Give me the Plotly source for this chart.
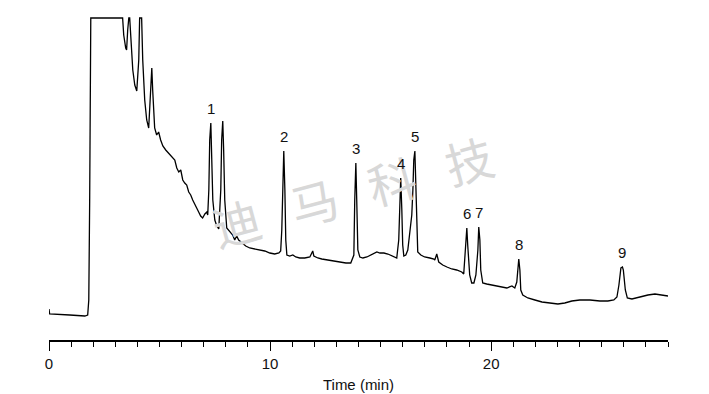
import plotly.graph_objects as go

# Chromatogram trace (time in min, detector signal in arbitrary units)
time_min = [
    0.00, 0.03, 0.94, 1.62, 1.75, 1.80, 1.84, 1.89, 3.33, 3.38, 3.47, 3.51, 3.56, 3.61, 3.65,
    3.70, 3.79, 3.88, 3.97, 4.06, 4.10, 4.19, 4.24, 4.33, 4.42, 4.51, 4.60, 4.65, 4.69, 4.78,
    4.87, 4.96, 5.05, 5.15, 5.28, 5.37, 5.46, 5.60, 5.69, 5.78, 5.87, 5.96, 6.05, 6.14, 6.23,
    6.32, 6.41, 6.50, 6.59, 6.68, 6.77, 6.86, 6.95, 7.05, 7.14, 7.18, 7.23, 7.27, 7.32, 7.36,
    7.41, 7.50, 7.59, 7.68, 7.77, 7.81, 7.86, 7.90, 7.95, 8.04, 8.18, 8.31, 8.40, 8.49, 8.58,
    8.72, 8.90, 9.08, 9.31, 9.54, 9.76, 9.99, 10.21, 10.40, 10.48, 10.53, 10.58, 10.62, 10.67,
    10.71, 10.76, 10.89, 11.03, 11.16, 11.34, 11.57, 11.80, 11.89, 11.93, 11.98, 12.16, 12.34,
    12.57, 12.84, 13.15, 13.43, 13.65, 13.79, 13.83, 13.88, 13.92, 13.97, 14.06, 14.20, 14.38,
    14.56, 14.69, 14.83, 14.97, 15.15, 15.33, 15.55, 15.73, 15.82, 15.87, 15.91, 15.96, 16.00,
    16.05, 16.14, 16.23, 16.32, 16.37, 16.41, 16.46, 16.50, 16.55, 16.59, 16.64, 16.68, 16.82,
    16.99, 17.23, 17.41, 17.45, 17.54, 17.63, 17.81, 18.00, 18.22, 18.44, 18.67, 18.76, 18.85,
    18.90, 18.94, 19.03, 19.12, 19.22, 19.31, 19.40, 19.44, 19.49, 19.53, 19.62, 19.80, 20.03,
    20.26, 20.48, 20.71, 20.94, 21.07, 21.16, 21.21, 21.25, 21.30, 21.34, 21.43, 21.66, 21.98,
    22.30, 22.66, 23.02, 23.33, 23.65, 24.01, 24.47, 24.92, 25.28, 25.55, 25.69, 25.78, 25.87,
    25.94, 25.98, 26.07, 26.16, 26.37, 26.73, 27.09, 27.41, 27.73, 28.00,
]
signal = [
    6, 1, 0, -1, 0, 15, 115, 297, 297, 280, 267, 265, 285, 297, 297,
    275, 245, 230, 224, 255, 297, 297, 255, 215, 195, 187, 225, 247, 225, 187,
    180, 183, 175, 169, 165, 163, 160, 157, 155, 147, 143, 145, 135, 132, 130,
    123, 120, 115, 110, 107, 103, 99, 97, 101, 103, 100, 125, 175, 192, 165,
    115, 95, 89, 86, 125, 175, 194, 165, 115, 87, 83, 80, 75, 79, 75,
    72, 69, 67, 66, 65, 64, 62, 61, 62, 64, 85, 140, 164, 125,
    75, 60, 59, 60, 58, 57, 57, 58, 62, 64, 59, 57, 56,
    55, 54, 53, 52, 52, 60, 115, 152, 115, 65, 58, 57, 58,
    60, 61, 63, 62, 62, 61, 59, 57, 75, 115, 137, 105, 70,
    59, 60, 65, 85, 97, 100, 125, 155, 164, 125, 75, 63, 60,
    58, 57, 56, 55, 61, 53, 50, 48, 46, 45, 43, 41, 65,
    87, 70, 40, 32, 32, 40, 65, 88, 75, 45, 32, 31, 30,
    29, 28, 27, 29, 27, 33, 50, 56, 45, 25, 20, 17, 15,
    13, 12, 11, 12, 14, 15, 15, 14, 14, 15, 18, 30, 47,
    48, 45, 25, 17, 16, 18, 20, 21, 20, 19,
]

# Peak labels and their apexes
peak_ids = ["1", "2", "3", "4", "5", "6", "7", "8", "9"]
peak_times = [7.32, 10.62, 13.88, 15.91, 16.55, 18.90, 19.44, 21.25, 25.94]
peak_heights = [192, 164, 152, 137, 164, 87, 88, 56, 48]

x_ticks = [0, 10, 20]
x_title = "Time (min)"
watermark = "迪\u00a0\u00a0\u00a0马\u00a0\u00a0\u00a0科\u00a0\u00a0\u00a0技"

FONT = "Arial, 'Liberation Sans', sans-serif"

fig = go.Figure()
fig.add_trace(go.Scatter(
    x=time_min, y=signal, mode="lines",
    line=dict(color="black", width=1.3),
    hoverinfo="skip", showlegend=False,
))

annotations = [dict(
    x=13.75, y=125, xref="x", yref="y", text=watermark, showarrow=False,
    textangle=-15, font=dict(family="'Noto Sans CJK SC'", size=48, color="#d8d8d8"),
)]
for pid, pt, ph in zip(peak_ids, peak_times, peak_heights):
    annotations.append(dict(
        x=pt, y=ph, xref="x", yref="y", text=pid, showarrow=False,
        yanchor="middle", yshift=15,
        font=dict(family=FONT, size=15, color="#111111"),
    ))

# the page adds an 8 px body margin, so the figure is sized to fit inside the window
fig.update_layout(
    width=701, height=386,
    margin=dict(l=41, r=41, t=8, b=54, autoexpand=False),
    paper_bgcolor="white", plot_bgcolor="white",
    showlegend=False,
    annotations=annotations,
    font=dict(family=FONT, size=15, color="#111111"),
    xaxis=dict(
        range=[0, 28], showgrid=False, zeroline=False, automargin=False,
        showline=True, linecolor="black", linewidth=1.5,
        tickmode="array", tickvals=x_ticks, ticktext=[str(v) for v in x_ticks],
        ticks="outside", ticklen=9, tickwidth=1.3, tickcolor="black",
        minor=dict(dtick=1, ticks="outside", ticklen=5, tickwidth=1, tickcolor="black"),
        tickfont=dict(family=FONT, size=15, color="#111111"),
        title=dict(text=x_title, font=dict(family=FONT, size=15, color="#111111"), standoff=9),
    ),
    yaxis=dict(range=[-25, 299], visible=False, showgrid=False, zeroline=False),
)

fig.write_html("out.html")
